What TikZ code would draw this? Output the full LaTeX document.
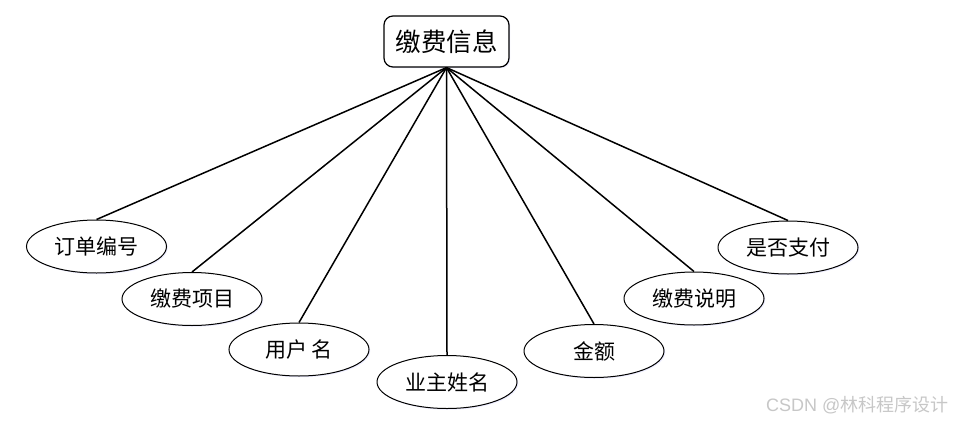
\documentclass[tikz,border=0pt]{standalone}
\usepackage{fontspec}
\setmainfont{Liberation Sans}
\newfontfamily\cjk{Noto Sans CJK SC}
\usetikzlibrary{shapes.geometric,shadows}
\begin{document}
\begin{tikzpicture}[x=1pt,y=-1pt,
  rootbox/.style={draw, line width=1.2pt, rounded corners=9pt, fill=white,
    minimum width=125pt, minimum height=51pt, inner sep=0pt,
    font=\cjk\fontsize{25.5}{28}\selectfont,
    drop shadow={shadow xshift=1.2pt, shadow yshift=-1.2pt, fill=blue!12, opacity=0.6}},
  attr/.style={draw, ellipse, line width=1pt, fill=white,
    minimum width=140pt, minimum height=53pt, inner sep=0pt,
    font=\cjk\fontsize{21}{24}\selectfont,
    drop shadow={shadow xshift=1.2pt, shadow yshift=-1.2pt, fill=blue!12, opacity=0.6}},
  link/.style={line width=1.5pt}]
\useasboundingbox (0,0) rectangle (953,423);
\fill[white] (0,0) rectangle (953,423);
% attribute ellipses
\node[attr] (a1) at (96.5,246.5) {订单编号};
\node[attr] (a2) at (192,299) {缴费项目};
\node[attr] (a3) at (299,349.5) {用户 名};
\node[attr] (a4) at (447,382) {业主姓名};
\node[attr] (a5) at (594,351) {金额};
\node[attr] (a6) at (694,298.5) {缴费说明};
\node[attr] (a7) at (788,247.5) {是否支付};
% root
\node[rootbox] (root) at (446.5,41.5) {缴费信息};
\coordinate (hub) at (root.south);
\foreach \i in {1,...,7}{
  \draw[link] (hub) -- (a\i.north);
}
% watermark
\node[anchor=west, text=black!22, inner sep=0pt, font=\fontsize{18}{21}\selectfont] (wm) at (766,405) {CSDN @{\cjk 林科程序设计}};
\end{tikzpicture}
\end{document}
